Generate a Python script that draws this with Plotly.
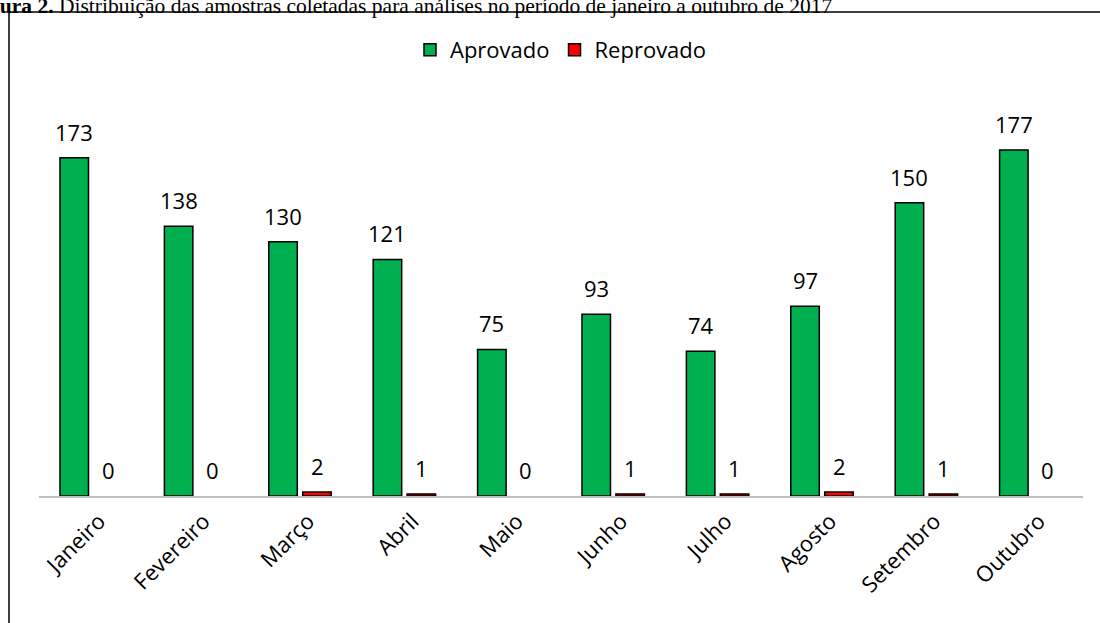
import plotly.graph_objects as go

meses = ["Janeiro", "Fevereiro", "Março", "Abril", "Maio", "Junho", "Julho", "Agosto", "Setembro", "Outubro"]
aprovado = [173, 138, 130, 121, 75, 93, 74, 97, 150, 177]
reprovado = [0, 0, 2, 1, 0, 1, 1, 2, 1, 0]

titulo = "<b>Figura 2.</b> Distribuição das amostras coletadas para análises no período de janeiro a outubro de 2017"

W, H = 1100, 623
L, R, T, B = 39, 16.5, 105, 127
pw = W - L - R
ph = H - T - B

def px2x(p):
    return (p - L) / pw

def py2y(p):
    return (H - B - p) / ph

FONT = "Open Sans"
FS = 22

def visible(vals):
    # zero-valued bars are not drawn (no outline), as in the original
    return [v if v != 0 else None for v in vals]

fig = go.Figure()
fig.add_trace(go.Bar(name="Aprovado", x=meses, y=visible(aprovado),
                     marker=dict(color="#00b050", line=dict(color="black", width=1.5))))
fig.add_trace(go.Bar(name="Reprovado", x=meses, y=visible(reprovado),
                     marker=dict(color="#ff0000", line=dict(color="black", width=1.5))))

ann = []
for m, a, r in zip(meses, aprovado, reprovado):
    ann.append(dict(x=m, y=a, xref="x", yref="y", text=str(a), showarrow=False,
                    xshift=-17, yshift=26, yanchor="middle",
                    font=dict(family=FONT, size=FS, color="black")))
    ann.append(dict(x=m, y=r, xref="x", yref="y", text=str(r), showarrow=False,
                    xshift=17, yshift=26, yanchor="middle",
                    font=dict(family=FONT, size=FS, color="black")))

ann.append(dict(x=px2x(-32), y=py2y(5.5), xref="paper", yref="paper", xanchor="left", yanchor="middle",
                text=titulo, showarrow=False,
                font=dict(family="Liberation Serif", size=21.5, color="black")))

fig.update_layout(
    width=W, height=H,
    margin=dict(l=L, r=R, t=T, b=B, pad=0),
    paper_bgcolor="white", plot_bgcolor="white",
    barmode="group", bargap=0.35, bargroupgap=0.16,
    font=dict(family=FONT, size=FS, color="black"),
    showlegend=True,
    legend=dict(orientation="h", x=0.5, xanchor="center", y=py2y(50), yanchor="middle",
                font=dict(family=FONT, size=FS, color="black"), itemwidth=30,
                bgcolor="rgba(0,0,0,0)"),
    xaxis=dict(showline=True, linecolor="#bfbfbf", linewidth=1.5, ticks="",
               tickangle=-45, tickfont=dict(family=FONT, size=FS, color="black"),
               ticklabelshift=8, ticklabelstandoff=2,
               showgrid=False, zeroline=False),
    yaxis=dict(range=[0, 200], visible=False, showgrid=False, zeroline=False),
    annotations=ann,
    shapes=[dict(type="rect", xref="paper", yref="paper",
                 x0=px2x(9), y0=py2y(640), x1=px2x(1110), y1=py2y(12),
                 line=dict(color="black", width=1.5), fillcolor="rgba(0,0,0,0)", layer="below")],
)

fig.write_html("out.html")
